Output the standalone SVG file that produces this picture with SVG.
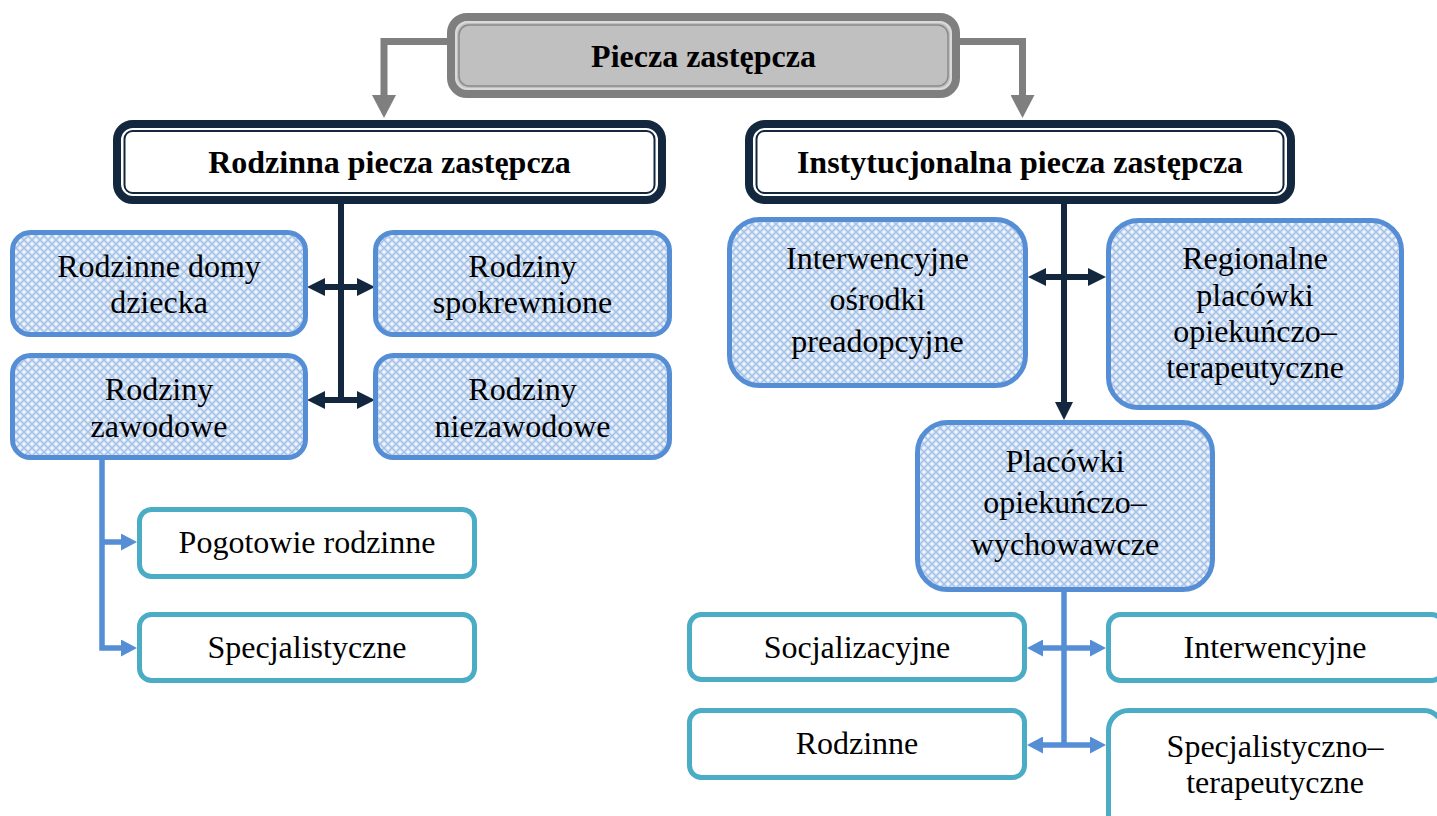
<svg xmlns="http://www.w3.org/2000/svg" width="1437" height="816" viewBox="0 0 1437 816">
<defs>
<pattern id="hatch" patternUnits="userSpaceOnUse" width="8" height="8">
<rect width="8" height="8" fill="#dce7f6"/>
<path d="M0,0 L8,8 M8,0 L0,8" stroke="#a3c0e8" stroke-width="1.3"/>
<circle cx="4" cy="0" r="0.9" fill="#ffffff"/>
<circle cx="0" cy="4" r="0.9" fill="#ffffff"/>
<circle cx="8" cy="4" r="0.9" fill="#ffffff"/>
<circle cx="4" cy="8" r="0.9" fill="#ffffff"/>
</pattern>
<marker id="navyArrow" viewBox="0 0 18 18" markerWidth="18" markerHeight="18" refX="10" refY="9" markerUnits="userSpaceOnUse" orient="auto-start-reverse">
<path d="M0,0 L18,9 L0,18 z" fill="#13273f"/>
</marker>
<marker id="blueArrow" viewBox="0 0 16 17" markerWidth="16" markerHeight="17" refX="8" refY="8.5" markerUnits="userSpaceOnUse" orient="auto-start-reverse">
<path d="M0,0 L16,8.5 L0,17 z" fill="#558ed5"/>
</marker>
<marker id="grayArrow" viewBox="0 0 23 24" markerWidth="23" markerHeight="24" refX="8" refY="12" markerUnits="userSpaceOnUse" orient="auto">
<path d="M0,0 L23,12 L0,24 z" fill="#7f7f7f"/>
</marker>
</defs>
<style>
text{font-family:"Liberation Serif","Times New Roman",serif;font-size:32px;fill:#000;text-anchor:middle}
.b{font-weight:bold;font-size:32px}
.blue{fill:url(#hatch);stroke:#558ed5;stroke-width:5}
.teal{fill:#ffffff;stroke:#4bacc6;stroke-width:5}
.navyOuter{fill:#ffffff;stroke:#13273f;stroke-width:8}
.navyInner{fill:none;stroke:#13273f;stroke-width:2}
.cNavy{fill:none;stroke:#13273f;stroke-width:6}
.cBlue{fill:none;stroke:#558ed5;stroke-width:5.5}
.cGray{fill:none;stroke:#7f7f7f;stroke-width:7}
</style>

<g id="connectors">
<path class="cGray" d="M451,41.5 H384 V103" marker-end="url(#grayArrow)"/>
<path class="cGray" d="M956,41.5 H1022.5 V103" marker-end="url(#grayArrow)"/>
<path class="cNavy" d="M341,204 V400"/>
<path class="cNavy" d="M315,287 H367" marker-start="url(#navyArrow)" marker-end="url(#navyArrow)"/>
<path class="cNavy" d="M315,400 H367" marker-start="url(#navyArrow)" marker-end="url(#navyArrow)"/>
<path class="cNavy" d="M1064,204 V412" marker-end="url(#navyArrow)"/>
<path class="cNavy" d="M1036,277 H1098" marker-start="url(#navyArrow)" marker-end="url(#navyArrow)"/>
<path class="cBlue" d="M102,460 V648 H129" marker-end="url(#blueArrow)"/>
<path class="cBlue" d="M102,542 H129" marker-end="url(#blueArrow)"/>
<path class="cBlue" d="M1064,592 V745"/>
<path class="cBlue" d="M1035,648 H1098" marker-start="url(#blueArrow)" marker-end="url(#blueArrow)"/>
<path class="cBlue" d="M1035,745 H1098" marker-start="url(#blueArrow)" marker-end="url(#blueArrow)"/>
</g>

<g id="piecza">
<rect x="451" y="17" width="505" height="77" rx="16" fill="#c0c0c0" stroke="#7f7f7f" stroke-width="8"/>
<rect x="456" y="22" width="495" height="67" rx="12" fill="none" stroke="#dadada" stroke-width="2"/>
<rect x="459" y="25" width="489" height="61" rx="10" fill="none" stroke="#8a8a8a" stroke-width="1.5"/>
<text class="b" x="703.5" y="67">Piecza zastępcza</text>
</g>

<g id="rodzinna">
<rect class="navyOuter" x="117" y="124" width="545" height="76" rx="16"/>
<rect class="navyInner" x="124.5" y="131" width="530" height="62" rx="8"/>
<text class="b" x="389.5" y="173">Rodzinna piecza zastępcza</text>
</g>

<g id="instytucjonalna">
<rect class="navyOuter" x="749" y="124" width="542" height="76" rx="16"/>
<rect class="navyInner" x="756.5" y="131" width="527" height="62" rx="8"/>
<text class="b" x="1020" y="173">Instytucjonalna piecza zastępcza</text>
</g>

<g id="domy">
<rect class="blue" x="12.5" y="232.5" width="293" height="102" rx="18"/>
<text x="159" y="277">Rodzinne domy</text>
<text x="159" y="313">dziecka</text>
</g>

<g id="spokrewnione">
<rect class="blue" x="375.5" y="232.5" width="294" height="102" rx="18"/>
<text x="522.5" y="277">Rodziny</text>
<text x="522.5" y="313">spokrewnione</text>
</g>

<g id="zawodowe">
<rect class="blue" x="12.5" y="355.5" width="293" height="102" rx="18"/>
<text x="159" y="400">Rodziny</text>
<text x="159" y="437">zawodowe</text>
</g>

<g id="niezawodowe">
<rect class="blue" x="375.5" y="355.5" width="294" height="102" rx="18"/>
<text x="522.5" y="400">Rodziny</text>
<text x="522.5" y="437">niezawodowe</text>
</g>

<g id="pogotowie">
<rect class="teal" x="139.5" y="509.5" width="335" height="67" rx="12"/>
<text x="307" y="553">Pogotowie rodzinne</text>
</g>

<g id="specjalistyczne">
<rect class="teal" x="139.5" y="614.5" width="335" height="66" rx="12"/>
<text x="307" y="658">Specjalistyczne</text>
</g>

<g id="osrodki">
<rect class="blue" x="729.5" y="219.5" width="296" height="166" rx="30"/>
<text x="877.5" y="269">Interwencyjne</text>
<text x="877.5" y="310">ośrodki</text>
<text x="877.5" y="352">preadopcyjne</text>
</g>

<g id="regionalne">
<rect class="blue" x="1108.5" y="220.5" width="293" height="187" rx="30"/>
<text x="1255" y="269">Regionalne</text>
<text x="1255" y="306">placówki</text>
<text x="1255" y="342">opiekuńczo–</text>
<text x="1255" y="378">terapeutyczne</text>
</g>

<g id="placowki">
<rect class="blue" x="917.5" y="422.5" width="295" height="167" rx="30"/>
<text x="1065" y="472">Placówki</text>
<text x="1065" y="513">opiekuńczo–</text>
<text x="1065" y="555">wychowawcze</text>
</g>

<g id="socjalizacyjne">
<rect class="teal" x="689.5" y="614.5" width="335" height="65" rx="12"/>
<text x="857" y="658">Socjalizacyjne</text>
</g>

<g id="interwencyjne">
<rect class="teal" x="1108.5" y="614.5" width="335" height="66" rx="12"/>
<text x="1275" y="658">Interwencyjne</text>
</g>

<g id="rodzinne">
<rect class="teal" x="689.5" y="710.5" width="335" height="67" rx="12"/>
<text x="857" y="754">Rodzinne</text>
</g>

<g id="specjalistyczno">
<rect class="teal" x="1108.5" y="710.5" width="335" height="140" rx="20"/>
<text x="1275" y="757">Specjalistyczno–</text>
<text x="1275" y="793">terapeutyczne</text>
</g>
</svg>
